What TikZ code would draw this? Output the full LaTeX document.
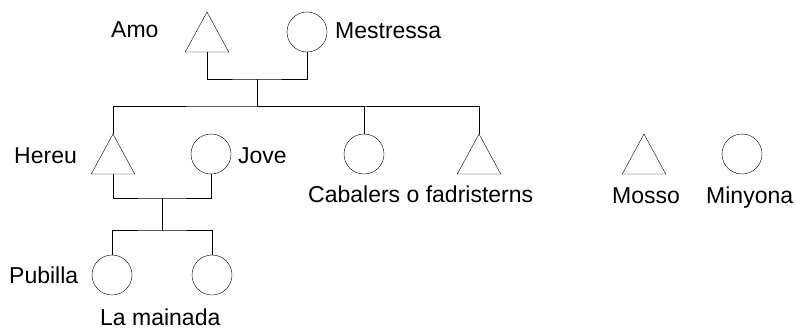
\documentclass[tikz,border=0pt]{standalone}
\usepackage{fontspec}
\setmainfont{Liberation Sans}
\usetikzlibrary{positioning,shapes.geometric}
\tikzset{
	line width=1.9pt,
	male/.style={draw, isosceles triangle, shape border rotate=90, isosceles triangle apex angle=57,
		minimum width=40pt, minimum height=40pt, inner sep=0pt, outer sep=0pt}, % triangle = man
	female/.style={draw, circle, minimum size=40pt, inner sep=0pt, outer sep=0pt}, % circle = woman
	role/.style={anchor=base west, inner sep=0pt, font=\fontsize{23}{27}\selectfont},
}
\begin{document}
\begin{tikzpicture}[x=1pt, y=-1pt]
	\useasboundingbox (0,0) rectangle (795,329);

	\node[male, anchor=lower side] (amo) at (207,52) {};
	\node[female] (mestressa) at (307,32) {};
	\node[male, anchor=lower side] (hereu) at (113,174) {};
	\node[female] (jove) at (211,154) {};
	\node[female] (cabaler) at (364,154) {};
	\node[male, anchor=lower side] (fadristern) at (479,174) {};
	\node[male, anchor=lower side] (mosso) at (644,174) {};
	\node[female] (minyona) at (742,154) {};
	\node[female] (pubilla) at (112,275) {};
	\node[female] (mainada) at (212,275) {};

	\coordinate (wed1) at (257,79);
	\coordinate (kids1) at (257,106);
	\coordinate (wed2) at (162,198);
	\coordinate (kids2) at (162,230);

	\draw (amo.lower side) |- (wed1) -| (mestressa.south);
	\draw (wed1) -- (kids1);
	\draw (hereu.apex) |- (kids1) -| (fadristern.apex);
	\draw (cabaler.north) |- (kids1);
	\draw (hereu.lower side) |- (wed2) -| (jove.south);
	\draw (wed2) -- (kids2);
	\draw (pubilla.north) |- (kids2) -| (mainada.north);

	\node[role] (tamo) at (111,37.5) {Amo};
	\node[role] (tmestressa) at (335,39) {Mestressa};
	\node[role] (thereu) at (14,163) {Hereu};
	\node[role] (tjove) at (238,163) {Jove};
	\node[role] (tcabaler) at (308,202) {Cabalers o fadristerns};
	\node[role] (tmosso) at (612,203) {Mosso};
	\node[role] (tminyona) at (706,203) {Minyona};
	\node[role] (tpubilla) at (9,283) {Pubilla};
	\node[role] (tmainada) at (100,325) {La mainada};
\end{tikzpicture}
\end{document}
